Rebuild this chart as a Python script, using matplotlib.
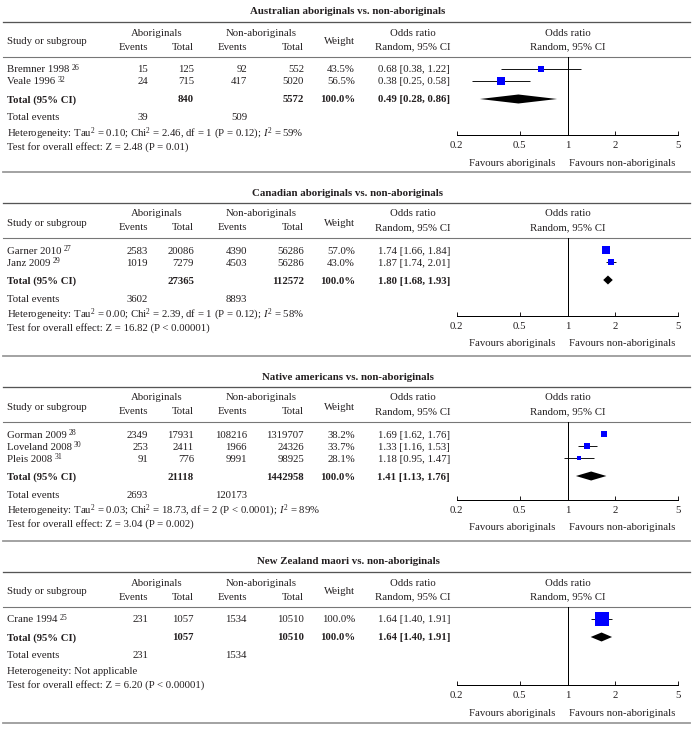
import matplotlib
matplotlib.use("Agg")
import matplotlib.pyplot as plt

plt.rcParams["font.family"] = "Liberation Serif"
plt.rcParams["mathtext.fontset"] = "custom"
plt.rcParams["mathtext.rm"] = "Liberation Serif"
plt.rcParams["mathtext.it"] = "Liberation Serif:italic"

# ---- data ----
panel_titles = ["Australian aboriginals vs. non-aboriginals",
                "Canadian aboriginals vs. non-aboriginals",
                "Native americans vs. non-aboriginals",
                "New Zealand maori vs. non-aboriginals"]
study_names = [["Bremner 1998", "Veale 1996"],
               ["Garner 2010", "Janz 2009"],
               ["Gorman 2009", "Loveland 2008", "Pleis 2008"],
               ["Crane 1994"]]
study_refs = [[26, 32], [27, 29], [28, 30, 31], [25]]
abo_events = [[15, 24], [2583, 1019], [2349, 253, 91], [231]]
abo_totals = [[125, 715], [20086, 7279], [17931, 2411, 776], [1057]]
non_events = [[92, 417], [4390, 4503], [108216, 1966, 9991], [1534]]
non_totals = [[552, 5020], [56286, 56286], [1319707, 24326, 98925], [10510]]
weights = [[43.5, 56.5], [57.0, 43.0], [38.2, 33.7, 28.1], [100.0]]
or_est = [[0.68, 0.38], [1.74, 1.87], [1.69, 1.33, 1.18], [1.64]]
or_low = [[0.38, 0.25], [1.66, 1.74], [1.62, 1.16, 0.95], [1.40]]
or_high = [[1.22, 0.58], [1.84, 2.01], [1.76, 1.53, 1.47], [1.91]]
pooled_est = [0.49, 1.80, 1.41, 1.64]
pooled_low = [0.28, 1.68, 1.13, 1.40]
pooled_high = [0.86, 1.93, 1.76, 1.91]
tau2 = ["0.10", "0.00", "0.03", None]
chi2 = ["2.46", "2.39", "18.73", None]
het_df = [1, 1, 2, None]
het_p = ["P = 0.12", "P = 0.12", "P < 0.0001", None]
i2 = [59, 58, 89, None]
z_val = ["2.48", "16.82", "3.04", "6.20"]
z_p = ["P = 0.01", "P < 0.00001", "P = 0.002", "P < 0.00001"]
or_ticks = [0.2, 0.5, 1, 2, 5]
tick_labels = ["0.2", "0.5", "1", "2", "5"]

# ---- layout (pixels) ----
W, H = 697, 731
panel_tops = [22, 203, 387, 572]
separators = [172, 356, 541, 723]
fs = 7.75
tc = "#231f20"
px = 0.72  # points per pixel at dpi 100

fig = plt.figure(figsize=(W / 100, H / 100), dpi=100)
ov = fig.add_axes([0, 0, 1, 1])
ov.set_xlim(0, W)
ov.set_ylim(H, 0)
ov.axis("off")


def txt(x, y, s, ha="left", bold=False, size=fs):
    return ov.text(x, y + 1, s, ha=ha, va="center", fontsize=size, color=tc,
                   fontweight="bold" if bold else "normal")


for ys in separators:
    ov.plot([3, 690], [ys, ys], color="#9a9a9a", lw=1.8 * px)

plot_left, plot_right = 456.7, 678.3

for p in range(4):
    y0 = panel_tops[p]
    txt(348, y0 - 11, panel_titles[p], ha="center", bold=True, size=7.8)
    ov.plot([3, 690], [y0, y0], color="#555555", lw=1.3 * px)
    ov.plot([3, 690], [y0 + 35, y0 + 35], color="#777777", lw=1.1 * px)

    # header
    txt(7, y0 + 19, "Study or subgroup")
    txt(157, y0 + 10, "Aboriginals", ha="center")
    txt(261, y0 + 10, "Non-aboriginals", ha="center")
    txt(148, y0 + 24, "Events", ha="right")
    txt(194, y0 + 24, "Total", ha="right")
    txt(247, y0 + 24, "Events", ha="right")
    txt(304, y0 + 24, "Total", ha="right")
    txt(355, y0 + 19, "Weight", ha="right")
    txt(413, y0 + 10, "Odds ratio", ha="center")
    txt(413, y0 + 24, "Random, 95% CI", ha="center")
    txt(567.5, y0 + 10, "Odds ratio", ha="center")
    txt(567.5, y0 + 24, "Random, 95% CI", ha="center")

    # forest axes, data y in pixel rows
    ax = fig.add_axes([plot_left / W, 1 - (y0 + 113) / H,
                       (plot_right - plot_left) / W, 78 / H])
    ax.set_xscale("log")
    ax.set_xlim(0.2, 5)
    ax.set_ylim(y0 + 113, y0 + 35)
    ax.patch.set_alpha(0)
    for s in ["top", "left", "right"]:
        ax.spines[s].set_visible(False)
    ax.spines["bottom"].set_linewidth(1.0 * px)
    ax.set_yticks([])
    ax.set_xticks(or_ticks)
    ax.set_xticklabels(tick_labels)
    ax.minorticks_off()
    ax.tick_params(axis="x", direction="in", length=4 * px, width=1.0 * px,
                   labelsize=fs, pad=4.5, colors=tc)
    ax.axvline(1, color="black", lw=1.0 * px)

    n = len(study_names[p])
    for i in range(n):
        y = y0 + 47 + 12 * i
        t = txt(7, y, study_names[p][i])
        # small superscript reference number after the name
        ov.annotate(str(study_refs[p][i]), xy=(1, 0.5), xycoords=t,
                    xytext=(1.5, 0), textcoords="offset points",
                    ha="left", va="baseline", fontsize=5.6, color=tc)
        txt(148, y, str(abo_events[p][i]), ha="right")
        txt(194, y, str(abo_totals[p][i]), ha="right")
        txt(247, y, str(non_events[p][i]), ha="right")
        txt(304, y, str(non_totals[p][i]), ha="right")
        txt(355, y, "%.1f%%" % weights[p][i], ha="right")
        txt(450, y, "%.2f [%.2f, %.2f]" % (or_est[p][i], or_low[p][i], or_high[p][i]), ha="right")
        ax.hlines(y, or_low[p][i], or_high[p][i], color="black", lw=0.9 * px, zorder=2)
        side = 1 + 0.125 * weights[p][i]
        ax.plot(or_est[p][i], y, marker="s", color="#0000ff", markersize=side * px,
                markeredgewidth=0, linestyle="none", zorder=3)

    yt = y0 + 47 + 12 * (n - 1) + 18
    txt(7, yt, "Total (95% CI)", bold=True)
    txt(194, yt, str(sum(abo_totals[p])), ha="right", bold=True)
    txt(304, yt, str(sum(non_totals[p])), ha="right", bold=True)
    txt(355, yt, "100.0%", ha="right", bold=True)
    txt(450, yt, "%.2f [%.2f, %.2f]" % (pooled_est[p], pooled_low[p], pooled_high[p]),
        ha="right", bold=True)
    dh = 4.5
    ax.fill([pooled_low[p], pooled_est[p], pooled_high[p], pooled_est[p]],
            [yt, yt - dh, yt, yt + dh], color="black", lw=0, zorder=3)

    ye = yt + 18
    txt(7, ye, "Total events")
    txt(148, ye, str(sum(abo_events[p])), ha="right")
    txt(247, ye, str(sum(non_events[p])), ha="right")

    if tau2[p] is None:
        het = "Heterogeneity: Not applicable"
    else:
        het = (r"Heterogeneity: Tau$^{2}$ = %s; Chi$^{2}$ = %s, df = %d (%s); $I^{2}$ = %d%%"
               % (tau2[p], chi2[p], het_df[p], het_p[p], i2[p]))
    txt(7, ye + 16, het)
    txt(7, ye + 29, "Test for overall effect: Z = %s (%s)" % (z_val[p], z_p[p]))

    txt(555, y0 + 140, "Favours aboriginals", ha="right")
    txt(569, y0 + 140, "Favours non-aboriginals", ha="left")

fig.savefig("out.png", dpi=100)
